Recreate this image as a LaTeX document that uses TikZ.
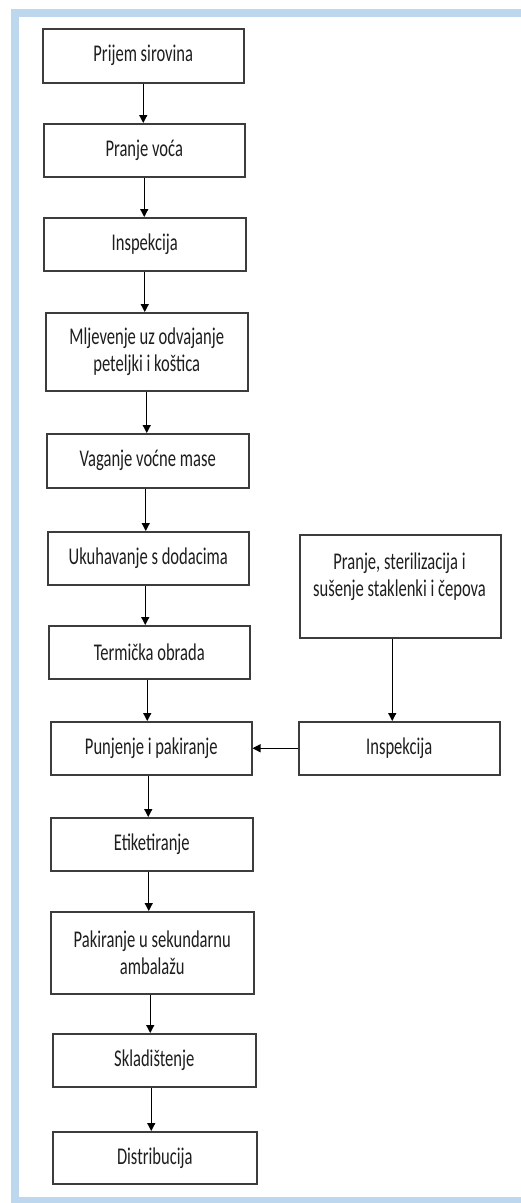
\documentclass[tikz,border=0pt]{standalone}
\usepackage{fontspec}
\setmainfont{Carlito}[FakeStretch=0.69]
\usetikzlibrary{arrows.meta}
\definecolor{frameblue}{RGB}{189,215,238}
\definecolor{boxline}{RGB}{60,60,60}
\definecolor{txt}{RGB}{30,30,30}
\begin{document}
\begin{tikzpicture}[x=1pt,y=-1pt,
  box/.style={draw=boxline, line width=1.5pt, rectangle, anchor=north west, inner sep=0pt,
    align=center, font=\fontsize{24}{27}\selectfont, text=txt},
  boxtext/.style={inner sep=0pt, align=center, font=\fontsize{24}{27}\selectfont, text=txt},
  arr/.style={-{Triangle[length=8pt,width=8pt]}, line width=1.2pt, black}]
\useasboundingbox (0,0) rectangle (521,1203);
\fill[white] (0,0) rectangle (521,1203);
\fill[frameblue] (11,9) rectangle (521,17);
\fill[frameblue] (11,9) rectangle (19,1203);
\fill[frameblue] (11,1197) rectangle (521,1203);

\node[box, minimum width=201pt, minimum height=54pt] (b1) at (42,28) {Prijem sirovina};
\node[box, minimum width=201pt, minimum height=53pt] (b2) at (43,123) {Pranje voća};
\node[box, minimum width=202pt, minimum height=53pt] (b3) at (43,217) {Inspekcija};
\node[box, minimum width=202pt, minimum height=78pt] (b4) at (45,312) {Mljevenje uz odvajanje\\peteljki i koštica};
\node[box, minimum width=202pt, minimum height=54pt] (b5) at (46,433) {Vaganje voćne mase};
\node[box, minimum width=201pt, minimum height=53pt] (b6) at (47,531) {Ukuhavanje s dodacima};
\node[box, minimum width=201pt, minimum height=53pt] (b7) at (48,625) {Termička obrada};
\node[box, minimum width=201pt, minimum height=53pt] (b8) at (50,721) {Punjenje i pakiranje};
\node[box, minimum width=202pt, minimum height=53pt] (b9) at (50,817) {Etiketiranje};
\node[box, minimum width=203pt, minimum height=82pt] (b10) at (50,911) {Pakiranje u sekundarnu\\ambalažu};
\node[box, minimum width=203pt, minimum height=53pt] (b11) at (52,1033) {Skladištenje};
\node[box, minimum width=204pt, minimum height=52pt] (b12) at (52,1131) {Distribucija};

\node[box, minimum width=201pt, minimum height=103pt] (r1) at (299,534) {};
\node[boxtext] (r1t) at (399.5,577) {Pranje, sterilizacija i\\sušenje staklenki i čepova};
\node[box, minimum width=201pt, minimum height=53pt] (r2) at (298,721) {Inspekcija};

\draw[arr] (b1.south) -- (b1.south |- b2.north);
\draw[arr] (b2.south) -- (b2.south |- b3.north);
\draw[arr] (b3.south) -- (b3.south |- b4.north);
\draw[arr] (b4.south) -- (b4.south |- b5.north);
\draw[arr] ([xshift=-2pt]b5.south) -- ([xshift=-2pt]b5.south |- b6.north);
\draw[arr] ([xshift=-3pt]b6.south) -- ([xshift=-3pt]b6.south |- b7.north);
\draw[arr] ([xshift=-2pt]b7.south) -- ([xshift=-2pt]b7.south |- b8.north);
\draw[arr] ([xshift=-3pt]b8.south) -- ([xshift=-3pt]b8.south |- b9.north);
\draw[arr] ([xshift=-3pt]b9.south) -- ([xshift=-3pt]b9.south |- b10.north);
\draw[arr] ([xshift=-2pt]b10.south) -- ([xshift=-2pt]b10.south |- b11.north);
\draw[arr] ([xshift=-3pt]b11.south) -- ([xshift=-3pt]b11.south |- b12.north);
\draw[arr] ([xshift=-8pt]r1.south) -- ([xshift=-8pt]r1.south |- r2.north);
\draw[arr] (r2.west) -- (b8.east);
\end{tikzpicture}
\end{document}
